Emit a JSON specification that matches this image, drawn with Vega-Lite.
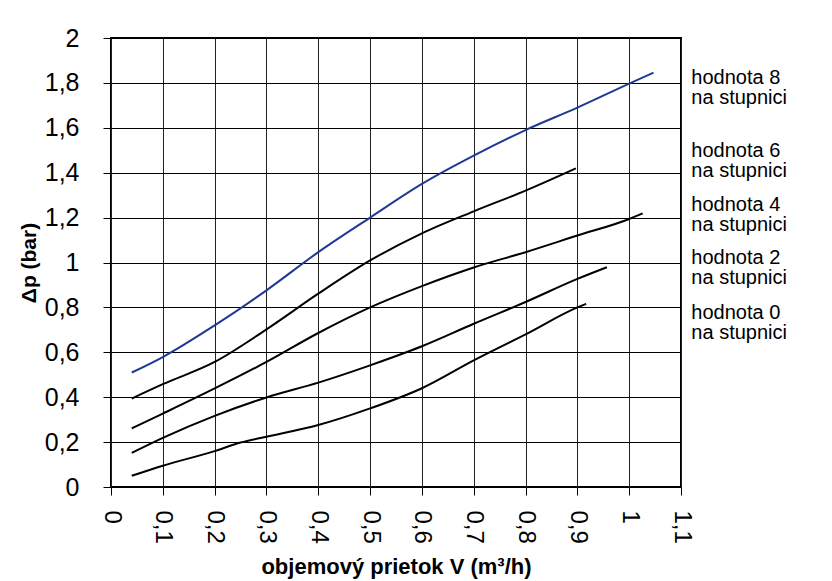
{
  "$schema": "https://vega.github.io/schema/vega-lite/v6.json",
  "width": 570,
  "height": 449,
  "autosize": {"type": "none"},
  "padding": {"left": 111, "top": 38, "right": 151, "bottom": 94},
  "background": "white",
  "config": {
    "font": "Liberation Sans",
    "view": {"stroke": "black", "strokeWidth": 2}
  },
  "datasets": {
    "curves": [
      {"series": "0", "v": 0.04, "dp": 0.05},
      {"series": "0", "v": 0.1, "dp": 0.095},
      {"series": "0", "v": 0.2, "dp": 0.16},
      {"series": "0", "v": 0.25, "dp": 0.198},
      {"series": "0", "v": 0.3, "dp": 0.224},
      {"series": "0", "v": 0.4, "dp": 0.276},
      {"series": "0", "v": 0.5, "dp": 0.35},
      {"series": "0", "v": 0.6, "dp": 0.44},
      {"series": "0", "v": 0.7, "dp": 0.564},
      {"series": "0", "v": 0.8, "dp": 0.68},
      {"series": "0", "v": 0.9, "dp": 0.8},
      {"series": "0", "v": 0.917, "dp": 0.816},
      {"series": "2", "v": 0.04, "dp": 0.152},
      {"series": "2", "v": 0.1, "dp": 0.219},
      {"series": "2", "v": 0.2, "dp": 0.317},
      {"series": "2", "v": 0.3, "dp": 0.399},
      {"series": "2", "v": 0.4, "dp": 0.465},
      {"series": "2", "v": 0.5, "dp": 0.542},
      {"series": "2", "v": 0.6, "dp": 0.627},
      {"series": "2", "v": 0.7, "dp": 0.727},
      {"series": "2", "v": 0.8, "dp": 0.824},
      {"series": "2", "v": 0.9, "dp": 0.927},
      {"series": "2", "v": 0.957, "dp": 0.979},
      {"series": "4", "v": 0.04, "dp": 0.261},
      {"series": "4", "v": 0.1, "dp": 0.327},
      {"series": "4", "v": 0.2, "dp": 0.439},
      {"series": "4", "v": 0.3, "dp": 0.557},
      {"series": "4", "v": 0.4, "dp": 0.686},
      {"series": "4", "v": 0.5, "dp": 0.8},
      {"series": "4", "v": 0.6, "dp": 0.895},
      {"series": "4", "v": 0.7, "dp": 0.978},
      {"series": "4", "v": 0.8, "dp": 1.046},
      {"series": "4", "v": 0.9, "dp": 1.12},
      {"series": "4", "v": 1.0, "dp": 1.194},
      {"series": "4", "v": 1.026, "dp": 1.219},
      {"series": "6", "v": 0.04, "dp": 0.394},
      {"series": "6", "v": 0.1, "dp": 0.458},
      {"series": "6", "v": 0.2, "dp": 0.557},
      {"series": "6", "v": 0.3, "dp": 0.702},
      {"series": "6", "v": 0.4, "dp": 0.861},
      {"series": "6", "v": 0.5, "dp": 1.009},
      {"series": "6", "v": 0.6, "dp": 1.13},
      {"series": "6", "v": 0.7, "dp": 1.228},
      {"series": "6", "v": 0.8, "dp": 1.32},
      {"series": "6", "v": 0.897, "dp": 1.419},
      {"series": "8", "v": 0.04, "dp": 0.51},
      {"series": "8", "v": 0.1, "dp": 0.579},
      {"series": "8", "v": 0.2, "dp": 0.72},
      {"series": "8", "v": 0.3, "dp": 0.876},
      {"series": "8", "v": 0.4, "dp": 1.046},
      {"series": "8", "v": 0.5, "dp": 1.2},
      {"series": "8", "v": 0.6, "dp": 1.35},
      {"series": "8", "v": 0.7, "dp": 1.476},
      {"series": "8", "v": 0.8, "dp": 1.59},
      {"series": "8", "v": 0.9, "dp": 1.69},
      {"series": "8", "v": 1.0, "dp": 1.797},
      {"series": "8", "v": 1.047, "dp": 1.846}
    ],
    "labels": [
      {"label": "hodnota 8\nna stupnici", "v": 1.12, "dp": 1.82},
      {"label": "hodnota 6\nna stupnici", "v": 1.12, "dp": 1.498},
      {"label": "hodnota 4\nna stupnici", "v": 1.12, "dp": 1.258},
      {"label": "hodnota 2\nna stupnici", "v": 1.12, "dp": 1.018},
      {"label": "hodnota 0\nna stupnici", "v": 1.12, "dp": 0.773}
    ]
  },
  "encoding": {
    "x": {
      "field": "v",
      "type": "quantitative",
      "scale": {"domain": [0, 1.1], "nice": false, "zero": true},
      "axis": {
        "values": [0, 0.1, 0.2, 0.3, 0.4, 0.5, 0.6, 0.7, 0.8, 0.9, 1, 1.1],
        "labelExpr": "replace(format(datum.value, '~g'), '.', ',')",
        "labelAngle": 90,
        "labelAlign": "left",
        "labelBaseline": "middle",
        "labelFontSize": 24,
        "labelColor": "black",
        "labelPadding": 15,
        "labelFlush": false,
        "labelOverlap": false,
        "tickSize": 8,
        "tickColor": "black",
        "domain": false,
        "grid": true,
        "gridColor": "#222",
        "gridOpacity": 1,
        "title": "objemový prietok V (m³/h)",
        "titleFontSize": 22,
        "titleFontWeight": "bold",
        "titleColor": "black",
        "titlePadding": 13
      }
    },
    "y": {
      "field": "dp",
      "type": "quantitative",
      "scale": {"domain": [0, 2], "nice": false},
      "axis": {
        "values": [0, 0.2, 0.4, 0.6, 0.8, 1, 1.2, 1.4, 1.6, 1.8, 2],
        "labelExpr": "replace(format(datum.value, '~g'), '.', ',')",
        "labelFontSize": 25,
        "labelColor": "black",
        "labelPadding": 24,
        "labelFlush": false,
        "labelOverlap": false,
        "tickSize": 8,
        "tickColor": "black",
        "domain": false,
        "grid": true,
        "gridColor": "black",
        "gridOpacity": 1,
        "title": "Δp (bar)",
        "titleFontSize": 21,
        "titleFontWeight": "bold",
        "titleColor": "black",
        "titlePadding": 5
      }
    }
  },
  "layer": [
    {
      "data": {"name": "curves"},
      "mark": {"type": "line", "interpolate": "monotone", "strokeWidth": 2},
      "encoding": {
        "color": {
          "field": "series",
          "type": "nominal",
          "scale": {"domain": ["0", "2", "4", "6", "8"], "range": ["black", "black", "black", "black", "#1F3A93"]},
          "legend": null
        }
      }
    },
    {
      "data": {"name": "labels"},
      "mark": {"type": "text", "align": "left", "baseline": "middle", "fontSize": 20, "lineBreak": "\n", "lineHeight": 20, "color": "black"},
      "encoding": {
        "text": {"field": "label"}
      }
    }
  ]
}
